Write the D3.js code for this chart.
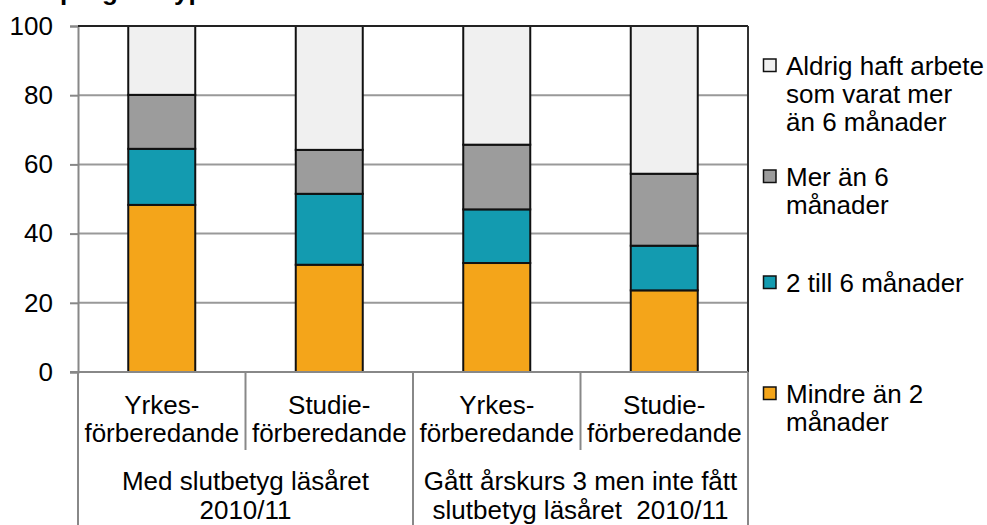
<!DOCTYPE html>
<html>
<head>
<meta charset="utf-8">
<script src="https://cdn.jsdelivr.net/npm/d3@7"></script>
<style>
  html, body { margin: 0; padding: 0; background: #fff; }
  svg { display: block; font-family: "Liberation Sans", Arial, sans-serif; }
</style>
</head>
<body>
<svg id="chart" width="987" height="525"></svg>
<script>
// ---- data ----
const categories = ["c1", "c2", "c3", "c4"];
const categoryLabels = [["Yrkes-", "förberedande"], ["Studie-", "förberedande"], ["Yrkes-", "förberedande"], ["Studie-", "förberedande"]];
const groupLabels = [["Med slutbetyg läsåret", "2010/11"], ["Gått årskurs 3 men inte fått", "slutbetyg läsåret  2010/11"]];
const seriesNames = ["Mindre än 2 månader", "2 till 6 månader", "Mer än 6 månader", "Aldrig haft arbete som varat mer än 6 månader"];
const mindre2 = [48.3, 31.0, 31.5, 23.6];
const till6 = [16.2, 20.5, 15.5, 12.9];
const mer6 = [15.6, 12.7, 18.7, 20.8];
const aldrig = [19.9, 35.8, 34.3, 42.7];
const yTicks = [0, 20, 40, 60, 80, 100];
const legendLines = [
  ["Aldrig haft arbete", "som varat mer", "än 6 månader"],
  ["Mer än 6", "månader"],
  ["2 till 6 månader"],
  ["Mindre än 2", "månader"]
];
const colors = ["#f4a51a", "#139bb0", "#9c9c9c", "#f0f0f0"];
const titleText = "programtyp";

// ---- layout ----
const svg = d3.select("#chart");
const pLeft = 78, pRight = 748, pTop = 26, pBottom = 372;
const y = d3.scaleLinear().domain([0, 100]).range([pBottom, pTop]);
const xBand = d3.scaleBand().domain(categories).range([pLeft, pRight]).paddingInner(0.6).paddingOuter(0.3);
const xCell = d3.scaleBand().domain(categories).range([pLeft, pRight]).padding(0);

const fs = 26;

// title (mostly cut off at top in the reference)
svg.append("text").attr("x", 60).attr("y", 0).attr("font-weight", "bold")
  .attr("font-size", fs).attr("fill", "#000").text(titleText);

// gridlines
svg.append("g").selectAll("line").data(yTicks.filter(d => d > 0 && d < 100)).join("line")
  .attr("x1", pLeft).attr("x2", pRight).attr("y1", d => y(d)).attr("y2", d => y(d))
  .attr("stroke", "#999").attr("stroke-width", 2);

// y axis
const yAxis = d3.axisLeft(y).tickValues(yTicks).tickSize(8).tickPadding(17);
const gy = svg.append("g").attr("transform", `translate(${pLeft},0)`).call(yAxis);
gy.select(".domain").attr("stroke", "#888").attr("stroke-width", 2);
gy.selectAll(".tick line").attr("stroke", "#888").attr("stroke-width", 2);
gy.selectAll(".tick text").attr("font-size", fs).attr("fill", "#000")
  .attr("font-family", "Liberation Sans, Arial, sans-serif");

// stacked bars
const rows = categories.map((c, i) => ({ cat: c, s0: mindre2[i], s1: till6[i], s2: mer6[i], s3: aldrig[i] }));
const stack = d3.stack().keys(["s0", "s1", "s2", "s3"]);
const stacked = stack(rows);
svg.append("g").selectAll("g").data(stacked).join("g")
  .attr("fill", (d, i) => colors[i])
  .selectAll("rect").data(d => d).join("rect")
  .attr("x", d => xBand(d.data.cat))
  .attr("width", xBand.bandwidth())
  .attr("y", d => y(d[1]))
  .attr("height", d => y(d[0]) - y(d[1]))
  .attr("stroke", "#111").attr("stroke-width", 2);

// plot border top/right
svg.append("line").attr("x1", pLeft).attr("x2", pRight).attr("y1", pTop).attr("y2", pTop)
  .attr("stroke", "#222").attr("stroke-width", 2);
svg.append("line").attr("x1", pRight).attr("x2", pRight).attr("y1", pTop).attr("y2", pBottom)
  .attr("stroke", "#333").attr("stroke-width", 2);

// x axis line
svg.append("line").attr("x1", pLeft - 8).attr("x2", pRight).attr("y1", pBottom).attr("y2", pBottom)
  .attr("stroke", "#888").attr("stroke-width", 2);

// category separators
const bounds = categories.map(c => xCell(c)).concat([pRight]);
svg.append("g").selectAll("line").data(bounds).join("line")
  .attr("x1", d => d).attr("x2", d => d)
  .attr("y1", pBottom)
  .attr("y2", (d, i) => (i % 2 === 0) ? 525 : 450)
  .attr("stroke", "#888").attr("stroke-width", 2);

// category labels
const catG = svg.append("g").attr("font-size", fs).attr("text-anchor", "middle").attr("fill", "#000");
categories.forEach((c, i) => {
  const cx = xCell(c) + xCell.bandwidth() / 2;
  categoryLabels[i].forEach((t, j) => {
    catG.append("text").attr("x", cx).attr("y", 414 + j * 28).text(t);
  });
});
// group labels
groupLabels.forEach((lines, g) => {
  const cx = xCell(categories[g * 2]) + xCell.bandwidth();
  lines.forEach((t, j) => {
    catG.append("text").attr("x", cx).attr("y", 490 + j * 29)
      .style("white-space", "pre").text(t);
  });
});

// legend
const legendY = [75, 186, 292, 403];
const legendColor = [colors[3], colors[2], colors[1], colors[0]];
const lg = svg.append("g").attr("font-size", fs).attr("fill", "#000");
legendLines.forEach((lines, i) => {
  lg.append("rect").attr("x", 763.5).attr("y", legendY[i] - 16).attr("width", 12.5).attr("height", 12.5)
    .attr("fill", legendColor[i]).attr("stroke", "#111").attr("stroke-width", 1.5);
  lines.forEach((t, j) => {
    lg.append("text").attr("x", 786).attr("y", legendY[i] + j * 28).text(t);
  });
});
</script>
</body>
</html>
